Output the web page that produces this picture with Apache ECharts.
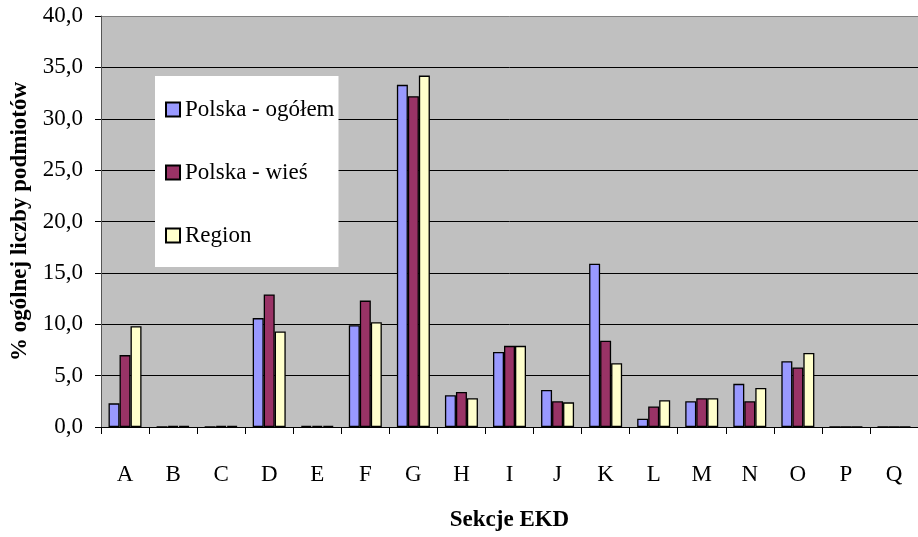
<!DOCTYPE html>
<html>
<head>
<meta charset="utf-8">
<script src="https://cdn.jsdelivr.net/npm/echarts@6/dist/echarts.min.js"></script>
<style>
html,body{margin:0;padding:0;background:#fff;}
#chart{width:918px;height:537px;}
</style>
</head>
<body>
<div id="chart"></div>
<script>
var categories = ['A','B','C','D','E','F','G','H','I','J','K','L','M','N','O','P','Q'];
var polskaOgolem = [2.3, 0, 0, 10.6, 0.1, 9.9, 33.3, 3.1, 7.3, 3.6, 15.9, 0.8, 2.5, 4.2, 6.4, 0, 0];
var polskaWies   = [7.0, 0.1, 0.1, 12.9, 0.1, 12.3, 32.2, 3.4, 7.9, 2.5, 8.4, 2.0, 2.8, 2.5, 5.8, 0, 0];
var region       = [9.8, 0.1, 0.1, 9.3, 0.1, 10.2, 34.2, 2.8, 7.9, 2.4, 6.2, 2.6, 2.8, 3.8, 7.2, 0, 0];
var seriesNames = ['Polska - ogółem', 'Polska - wieś', 'Region'];
var yTicks = [0, 5, 10, 15, 20, 25, 30, 35, 40];

var FONT = "'Liberation Serif', 'Times New Roman', serif";
var chart = echarts.init(document.getElementById('chart'), null, {renderer: 'canvas'});

function barSeries(name, data, color) {
  return {
    name: name,
    type: 'bar',
    data: data,
    barWidth: 11,
    barGap: '0%',
    itemStyle: {color: color, borderColor: '#000', borderWidth: 1.3},
    emphasis: {disabled: true},
    animation: false
  };
}

chart.setOption({
  animation: false,
  backgroundColor: '#fff',
  grid: {
    left: 101, top: 16, width: 826, height: 416,
    show: true, backgroundColor: '#C0C0C0', borderWidth: 0,
    containLabel: false
  },
  legend: {
    orient: 'vertical',
    left: 155, top: 76,
    backgroundColor: '#fff',
    padding: [22, 4, 20, 10],
    itemGap: 40,
    itemWidth: 14, itemHeight: 14,
    icon: 'rect',
    textStyle: {fontFamily: FONT, fontSize: 23, color: '#000', lineHeight: 22},
    data: seriesNames
  },
  xAxis: {
    type: 'category',
    data: categories,
    name: 'Sekcje EKD',
    nameLocation: 'middle',
    nameGap: 82,
    nameTextStyle: {fontFamily: FONT, fontSize: 23, fontWeight: 'bold', color: '#000'},
    axisLine: {show: true, lineStyle: {color: '#000', width: 1}},
    axisTick: {show: true, length: 7, interval: 0, lineStyle: {color: '#000'}},
    axisLabel: {interval: 0, margin: 36, fontFamily: FONT, fontSize: 23, color: '#000'},
    splitLine: {show: false}
  },
  yAxis: {
    type: 'value',
    min: yTicks[0], max: yTicks[yTicks.length - 1], interval: 5,
    name: '% ogólnej liczby podmiotów',
    nameLocation: 'middle',
    nameGap: 68,
    nameRotate: 90,
    nameTextStyle: {fontFamily: FONT, fontSize: 23, fontWeight: 'bold', color: '#000'},
    axisLine: {show: true, lineStyle: {color: '#555', width: 1}},
    axisTick: {show: true, length: 6, lineStyle: {color: '#000'}},
    axisLabel: {
      margin: 18, fontFamily: FONT, fontSize: 23, color: '#000',
      formatter: function (v) { return v.toFixed(1).replace('.', ','); }
    },
    splitLine: {show: true, lineStyle: {color: ['#000','#000','#000','#000','#000','#000','#000','#000','#808080'], width: 1}}
  },
  series: [
    barSeries(seriesNames[0], polskaOgolem, '#9999FF'),
    barSeries(seriesNames[1], polskaWies, '#993366'),
    barSeries(seriesNames[2], region, '#FFFFCC')
  ]
});
</script>
</body>
</html>
